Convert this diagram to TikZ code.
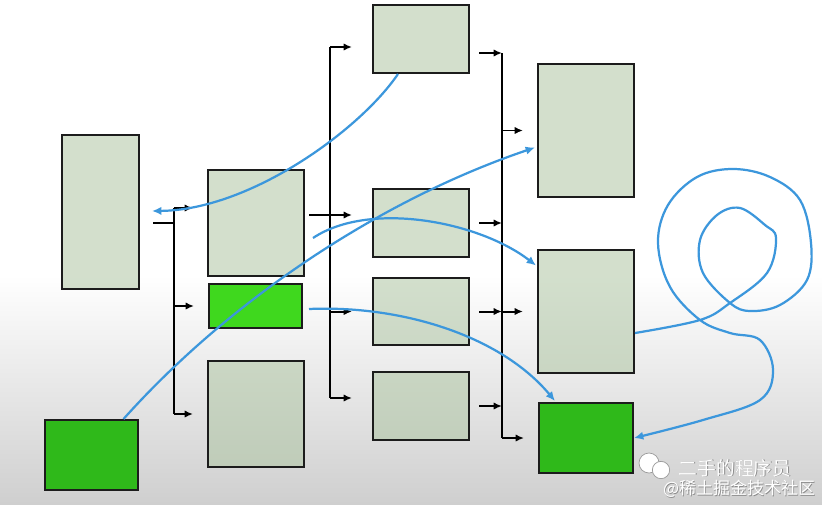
\documentclass[tikz,border=0pt]{standalone}
\usepackage{fontspec}
\usepackage{xcolor}
\usepackage{tikz}
\usetikzlibrary{arrows.meta,calc,positioning}
\newfontfamily\cjk{Noto Sans CJK SC}
\definecolor{paneface}{HTML}{ABC39F}
\definecolor{limegreen}{HTML}{3FD81E}
\definecolor{leafgreen}{HTML}{2FB91A}
\definecolor{ruledark}{HTML}{1C1C1C}
\definecolor{flowblue}{HTML}{3C97DC}
\definecolor{floorgrey}{HTML}{CFCFCF}

\begin{document}
\begin{tikzpicture}[x=0.03cm, y=-0.03cm, >=Latex,
  pane/.style={draw=ruledark, line width=1.7pt, fill=paneface, fill opacity=0.52, draw opacity=1, inner sep=0pt},
  greenpane/.style={pane, fill=leafgreen, fill opacity=1},
  wire/.style={draw=black, line width=1.7pt},
  tap/.style={wire, -{Latex[length=2.5mm,width=2.2mm]}},
  feed/.style={tap, shorten >=0.42cm},
  flow/.style={draw=flowblue, line width=1.9pt, -{Latex[length=2.8mm,width=2.5mm]}},
  tagtext/.style={text=white},
  tagshade/.style={text=black!45, xshift=0.7pt, yshift=-0.7pt}]
\useasboundingbox (0,0) rectangle (822,504);
\fill[white] (0,0) rectangle (822,504);
\shade[top color=white, bottom color=floorgrey] (0,275) rectangle (822,504);

\node[pane, minimum width=2.31cm, minimum height=4.62cm] (A) at (100.5,212) {};
\node[greenpane, minimum width=2.79cm, minimum height=2.1cm] (G1) at (91.5,455) {};
\node[pane, minimum width=2.88cm, minimum height=3.18cm] (B1) at (256,223) {};
\node[greenpane, fill=limegreen, minimum width=2.79cm, minimum height=1.32cm] (B2) at (255.5,306) {};
\node[pane, minimum width=2.88cm, minimum height=3.18cm] (B3) at (256,414) {};
\node[pane, minimum width=2.88cm, minimum height=2.04cm] (C1) at (421,39) {};
\node[pane, minimum width=2.88cm, minimum height=2.04cm] (C2) at (421,223) {};
\node[pane, minimum width=2.88cm, minimum height=2.01cm] (C3) at (421,311.5) {};
\node[pane, minimum width=2.88cm, minimum height=2.04cm] (C4) at (421,406) {};
\node[pane, minimum width=2.88cm, minimum height=3.99cm] (D1) at (586,130.5) {};
\node[pane, minimum width=2.88cm, minimum height=3.69cm] (D2) at (586,311.5) {};
\node[greenpane, minimum width=2.82cm, minimum height=2.1cm] (G2) at (586,438) {};

\coordinate (bus1a) at (174,208);
\coordinate (bus1b) at (174,414);
\draw[wire] (bus1a) -- (bus1b);
\draw[wire] ($(A.east)+(13,11)$) -- ($(A.east)+(35,11)$);
\draw[feed] (bus1a) -- (bus1a -| B1.west);
\draw[feed] (bus1a |- B2.west) -- (B2.west);
\draw[feed] (bus1b) -- (bus1b -| B3.west);

\coordinate (bus2a) at (330,47);
\coordinate (bus2b) at (330,398);
\draw[wire] (bus2a) -- (bus2b);
\draw[feed, shorten >=0.6cm] (bus2a) -- (bus2a -| C1.west);
\draw[feed, shorten >=0.6cm] ($(B1.east)+(4,-8)$) -- ($(C2.west)+(0,-8)$);
\draw[feed, shorten >=0.6cm] (bus2a |- C3.west) -- (C3.west);
\draw[feed, shorten >=0.6cm] (bus2b) -- (bus2b -| C4.west);

\coordinate (bus3a) at (502,53);
\coordinate (bus3b) at (502,438);
\draw[wire] (bus3a) -- (bus3b);
\draw[tap] ($(C1.east)+(9,14)$) -- (bus3a);
\draw[tap] ($(C2.east)+(9,0)$) -- (bus3a |- C2.east);
\draw[tap] ($(C3.east)+(9,0)$) -- (bus3a |- C3.east);
\draw[tap] ($(C4.east)+(9,0)$) -- (bus3a |- C4.east);
\draw[feed] (bus3a |- D1.west) -- (D1.west);
\draw[feed] (bus3a |- D2.west) -- (D2.west);
\draw[feed] (bus3b) -- (G2.west);

\coordinate (back) at (152,211);
\draw[flow] ($(C1.south)+(-23,0)$) .. controls (360,130) and (250,210) .. (back);
\draw[flow] ($(G1.north)+(32,0)$) .. controls (230,300) and (380,200) .. ($(D1.west)+(-2,17)$);
\draw[flow] ($(B1.east)+(8,15)$) .. controls (370,200) and (480,222) .. ($(D2.west)+(-1,-46)$);
\draw[flow] ($(B2.east)+(6,3)$) .. controls (400,305) and (500,335) .. ($(G2.north)+(-31,-1)$);
\coordinate (coil) at ($(D2.east)+(0,21.5)$);
\draw[flow] plot[smooth, tension=0.6] coordinates {(coil) (700,320) (730,303) (767,273) (776,238) (765,225) (740,208) (717,215) (700,240) (703,273) (730,303) (750,311) (780,305) (807,280) (811,243) (800,200) (770,177) (733,169) (697,177) (668,205) (658,243) (670,287) (700,320) (730,333) (760,340) (773,370) (760,400) (703,420) (G2.east)};

\draw[black!40, fill=white, line width=0.6pt] (649,463) circle [radius=0.3cm];
\draw[black!40, fill=white, line width=0.6pt] (661,470) circle [radius=0.26cm];
\node[tagshade, font=\cjk\fontsize{16pt}{16pt}\selectfont] (tag1s) at (735,468) {二手的程序员};
\node[tagtext, font=\cjk\fontsize{16pt}{16pt}\selectfont] (tag1) at (735,468) {二手的程序员};
\node[tagshade, font=\cjk\fontsize{14.5pt}{14.5pt}\selectfont] (tag2s) at (739,489) {@稀土掘金技术社区};
\node[tagtext, font=\cjk\fontsize{14.5pt}{14.5pt}\selectfont] (tag2) at (739,489) {@稀土掘金技术社区};
\end{tikzpicture}
\end{document}
